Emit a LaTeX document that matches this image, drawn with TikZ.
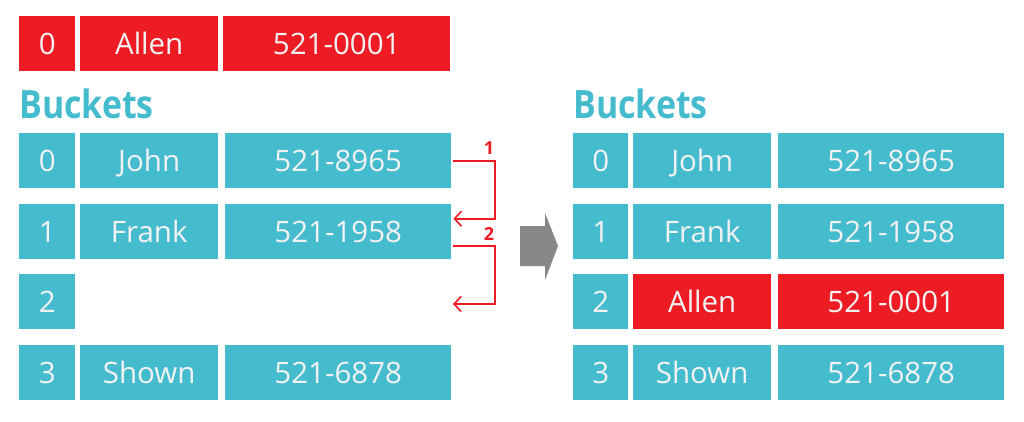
\documentclass[tikz,border=0pt]{standalone}
\usepackage{fontspec}
\setmainfont{Open Sans}
\usetikzlibrary{arrows.meta}
\definecolor{cy}{RGB}{68,188,206}
\definecolor{rd}{RGB}{237,28,36}
\definecolor{gr}{RGB}{136,136,136}
\definecolor{tx}{RGB}{242,242,242}
\tikzset{
  cell/.style={anchor=north west, inner sep=0pt, minimum height=55pt, text=tx, text height=21pt, text depth=0pt, font=\fontsize{29.5}{29.5}\selectfont},
  cyc/.style={cell, fill=cy},
  rdc/.style={cell, fill=rd},
  title/.style={anchor=base west, inner sep=0pt, text=cy, font=\fontsize{39}{39}\selectfont\bfseries},
  link/.style={draw=rd, line width=2pt, -{Straight Barb[length=7pt,width=15pt,line width=1.6pt]}},
  lab/.style={text=rd, font=\fontsize{18}{18}\selectfont\bfseries, inner sep=0pt}
}
\begin{document}
\begin{tikzpicture}[x=1pt,y=-1pt]
\useasboundingbox[fill=white] (0,0) rectangle (1024,421);
% top red row
\node[rdc, minimum width=56pt] (t0) at (19,16) {0};
\node[rdc, minimum width=138pt] (t1) at (80,16) {Allen};
\node[rdc, minimum width=227pt] (t2) at (223,16) {521-0001};
% left buckets
\node[title] (lt) at (19,118) {\scalebox{0.87}[1]{Buckets}};
\node[cyc, minimum width=56pt] (l0i) at (19,133) {0};
\node[cyc, minimum width=138pt] (l0n) at (80,133) {John};
\node[cyc, minimum width=226pt] (l0p) at (225,133) {521-8965};
\node[cyc, minimum width=56pt] (l1i) at (19,204) {1};
\node[cyc, minimum width=138pt] (l1n) at (80,204) {Frank};
\node[cyc, minimum width=226pt] (l1p) at (225,204) {521-1958};
\node[cyc, minimum width=56pt] (l2i) at (19,274) {2};
\node[cyc, minimum width=56pt] (l3i) at (19,345) {3};
\node[cyc, minimum width=138pt] (l3n) at (80,345) {Shown};
\node[cyc, minimum width=226pt] (l3p) at (225,345) {521-6878};
% right buckets
\node[title] (rt) at (573,118) {\scalebox{0.87}[1]{Buckets}};
\node[cyc, minimum width=55pt] (r0i) at (573,133) {0};
\node[cyc, minimum width=138pt] (r0n) at (633,133) {John};
\node[cyc, minimum width=226pt] (r0p) at (778,133) {521-8965};
\node[cyc, minimum width=55pt] (r1i) at (573,204) {1};
\node[cyc, minimum width=138pt] (r1n) at (633,204) {Frank};
\node[cyc, minimum width=226pt] (r1p) at (778,204) {521-1958};
\node[cyc, minimum width=55pt] (r2i) at (573,274) {2};
\node[rdc, minimum width=138pt] (r2n) at (633,274) {Allen};
\node[rdc, minimum width=226pt] (r2p) at (778,274) {521-0001};
\node[cyc, minimum width=55pt] (r3i) at (573,345) {3};
\node[cyc, minimum width=138pt] (r3n) at (633,345) {Shown};
\node[cyc, minimum width=226pt] (r3p) at (778,345) {521-6878};
% red connectors
\coordinate (e2) at (453,304);
\draw[link] ([xshift=2pt]l0p.east) -- ++(42,0) |- ([xshift=2pt,yshift=13pt]l1p.east);
\draw[link] ([xshift=2pt,yshift=-14.5pt]l1p.east) -- ++(42,0) |- (e2);
\node[lab] (n1) at (489,148) {1};
\node[lab] (n2) at (489,234) {2};
% gray arrow
\fill[gr] (520,226) -- (545,226) -- (545,213) -- (558,246) -- (545,280) -- (545,266) -- (520,266) -- cycle;
\end{tikzpicture}
\end{document}
